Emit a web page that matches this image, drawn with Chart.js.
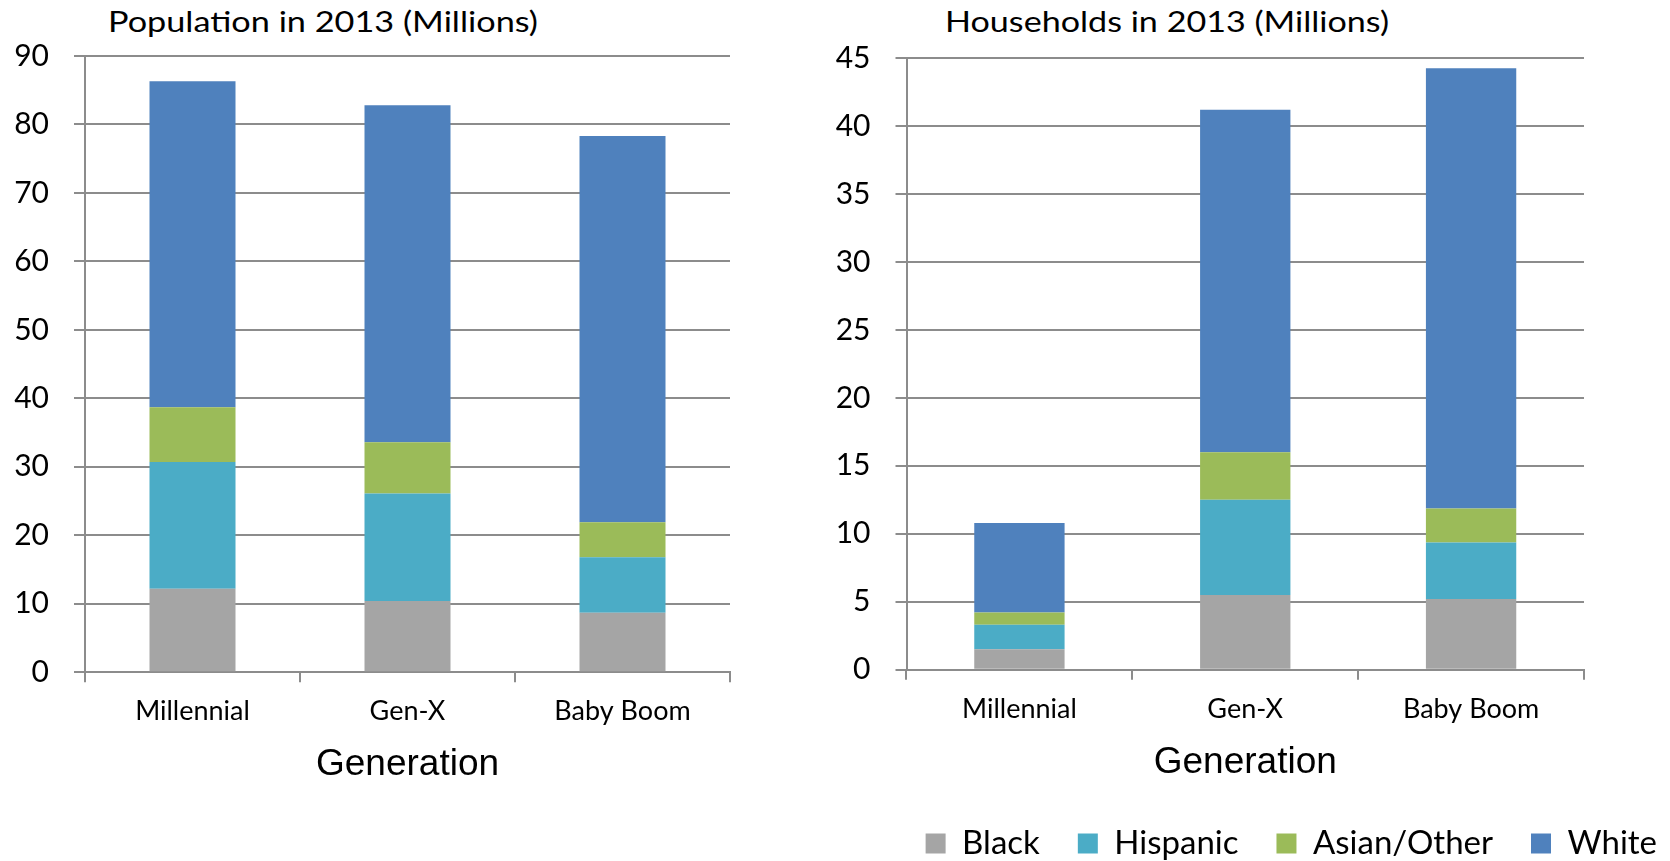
<!DOCTYPE html>
<html>
<head>
<meta charset="utf-8">
<script src="https://cdn.jsdelivr.net/npm/chart.js@4/dist/chart.umd.min.js"></script>
<style>
  html, body { margin: 0; padding: 0; background: #fff; }
  body { width: 1670px; height: 861px; overflow: hidden; position: relative; }
  .panel { position: absolute; top: 0; }
  #popPanel { left: 0; width: 770px; height: 861px; }
  #hhPanel { left: 800px; width: 895px; height: 870px; }
  .caption {
    position: absolute; white-space: nowrap; display: inline-block;
    font-family: Lato, "Open Sans", sans-serif; font-size: 28px; line-height: 1;
    color: #000; transform-origin: 0 0;
  }
  #popTitle { left: 108px; top: 7px; }
  #hhTitle { left: 945px; top: 7px; }
</style>
</head>
<body>
<div class="caption" id="popTitle">Population in 2013 (Millions)</div>
<div class="caption" id="hhTitle">Households in 2013 (Millions)</div>
<div class="panel" id="popPanel"><canvas id="popChart"></canvas></div>
<div class="panel" id="hhPanel"><canvas id="hhChart"></canvas></div>
<script>
// Generations on the category axis
const generations = ['Millennial', 'Gen-X', 'Baby Boom'];
const seriesNames = ['Black', 'Hispanic', 'Asian/Other', 'White'];

// Population in 2013, millions (stacked segments)
const popBlack    = [12.2, 10.4, 8.7];
const popHispanic = [18.5, 15.7, 8.1];
const popAsian    = [8.0, 7.5, 5.1];
const popWhite    = [47.6, 49.2, 56.4];

// Households in 2013, millions (stacked segments)
const hhBlack    = [1.5, 5.5, 5.2];
const hhHispanic = [1.8, 7.0, 4.15];
const hhAsian    = [0.9, 3.5, 2.5];
const hhWhite    = [6.6, 25.2, 32.4];

// Value-axis ticks
const popTicks = [0, 10, 20, 30, 40, 50, 60, 70, 80, 90];
const hhTicks  = [0, 5, 10, 15, 20, 25, 30, 35, 40, 45];

const seriesColors = ['#a5a5a5', '#4bacc6', '#9bbb59', '#4f81bd'];
const gridGray = '#8c8c8c';

function datasets(values) {
  return values.map((v, i) => ({
    label: seriesNames[i],
    data: v,
    backgroundColor: seriesColors[i],
    borderWidth: 0,
    barPercentage: 0.4,
    categoryPercentage: 1.0
  }));
}

function valueAxis(ticks, axisWidth) {
  return {
    type: 'linear',
    position: 'left',
    stacked: true,
    min: ticks[0],
    max: ticks[ticks.length - 1],
    afterBuildTicks: s => { s.ticks = ticks.map(v => ({ value: v })); },
    ticks: { color: '#000', padding: 25, font: { family: 'Lato', size: 30 } },
    grid: { color: gridGray, lineWidth: 2, tickLength: 11, drawTicks: true },
    border: { display: true, color: gridGray, width: 2 },
    afterFit: s => { s.width = axisWidth; }
  };
}

function categoryAxis(titleBottomPad) {
  return {
    type: 'category',
    stacked: true,
    grid: { display: true, drawOnChartArea: false, drawTicks: true, tickLength: 10, color: gridGray, lineWidth: 2, offset: true },
    border: { display: true, color: gridGray, width: 2 },
    ticks: { color: '#000', padding: 13, font: { family: 'Lato', size: 27 } },
    title: {
      display: true, text: 'Generation', color: '#000',
      font: { family: '"Liberation Sans", Arial, sans-serif', size: 37 },
      padding: { top: 2, bottom: titleBottomPad }
    }
  };
}

Chart.defaults.animation = false;

new Chart(document.getElementById('popChart'), {
  type: 'bar',
  data: { labels: generations, datasets: datasets([popBlack, popHispanic, popAsian, popWhite]) },
  options: {
    responsive: true, maintainAspectRatio: false, devicePixelRatio: 1,
    layout: { padding: { top: 56, right: 40, bottom: 74, left: 0 } },
    scales: { x: categoryAxis(0), y: valueAxis(popTicks, 85) },
    plugins: { legend: { display: false }, tooltip: { enabled: false } }
  }
});

new Chart(document.getElementById('hhChart'), {
  type: 'bar',
  data: { labels: generations, datasets: datasets([hhBlack, hhHispanic, hhAsian, hhWhite]) },
  options: {
    responsive: true, maintainAspectRatio: false, devicePixelRatio: 1,
    layout: { padding: { top: 58, right: 0, bottom: 0, left: 0 } },
    scales: {
      x: categoryAxis(4.5),
      y: valueAxis(hhTicks, 106.5),
      // empty right-hand margin so the legend can run past the plot's right edge
      margin: {
        type: 'linear', position: 'right', display: true,
        grid: { display: false, drawTicks: false },
        border: { display: false },
        ticks: { display: false },
        afterFit: s => { s.width = 111; }
      }
    },
    plugins: {
      legend: {
        display: true, position: 'bottom', align: 'end',
        labels: { color: '#000', boxWidth: 20, boxHeight: 20, padding: 38, font: { family: 'Lato', size: 33 } }
      },
      tooltip: { enabled: false }
    }
  }
});

// Stretch the panel captions to their set widths
function fitCaption(id, width) {
  const el = document.getElementById(id);
  const w = el.getBoundingClientRect().width;
  if (w > 0) el.style.transform = 'scaleX(' + (width / w) + ')';
}
fitCaption('popTitle', 430);
fitCaption('hhTitle', 444);
</script>
</body>
</html>
